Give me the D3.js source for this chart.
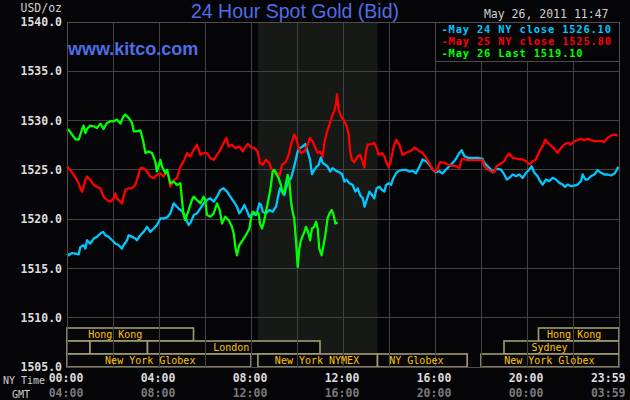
<!DOCTYPE html>
<html>
<head>
<meta charset="utf-8">
<title>24 Hour Spot Gold</title>
<script src="https://d3js.org/d3.v7.min.js"></script>
<style>
  body { margin: 0; background: #050507; }
  svg { display: block; }
  .mono { font-family: "DejaVu Sans Mono", monospace; }
  .axis text { font-family: "DejaVu Sans Mono", monospace; font-weight: bold; font-size: 11.5px; }
  .axis path { display: none; }
</style>
</head>
<body>
<svg width="630" height="400"></svg>
<script>
// [hour of NY day, bid price]
const may24 = [[0,1516.50],[0.07,1516.33],[0.22,1516.56],[0.36,1516.50],[0.51,1516.43],[0.58,1517.18],[0.72,1517.35],[0.80,1517.01],[0.87,1517.86],[1.01,1517.52],[1.16,1518.03],[1.30,1518.20],[1.45,1518.54],[1.57,1518.71],[1.67,1518.37],[1.81,1518.20],[1.96,1517.86],[2.10,1517.52],[2.25,1517.35],[2.39,1517.01],[2.46,1517.35],[2.61,1517.86],[2.68,1518.37],[2.83,1518.20],[2.97,1518.03],[3.04,1517.86],[3.19,1518.37],[3.33,1518.71],[3.48,1519.22],[3.62,1518.71],[3.77,1519.05],[3.91,1519.39],[4.06,1520.07],[4.20,1520.07],[4.35,1520.17],[4.49,1520.58],[4.64,1521.60],[4.78,1521.26],[4.93,1520.92],[5.04,1520.75],[5.14,1520.24],[5.29,1519.39],[5.39,1519.73],[5.51,1520.41],[5.65,1520.58],[5.80,1521.09],[5.94,1521.60],[6.09,1521.94],[6.23,1522.11],[6.38,1521.77],[6.52,1522.28],[6.67,1522.96],[6.81,1523.13],[6.96,1522.79],[7.10,1522.28],[7.25,1521.77],[7.39,1521.26],[7.49,1520.58],[7.64,1521.09],[7.71,1521.43],[7.81,1520.92],[7.93,1520.24],[8.07,1520.58],[8.22,1520.41],[8.29,1520.92],[8.36,1521.60],[8.44,1521.43],[8.51,1520.75],[8.65,1520.58],[8.80,1520.92],[8.94,1520.75],[9.09,1521.26],[9.16,1522.11],[9.26,1523.13],[9.35,1522.79],[9.45,1522.45],[9.52,1523.13],[9.59,1523.64],[9.67,1523.98],[9.74,1524.15],[9.84,1525.00],[9.93,1525.85],[10.03,1526.87],[10.13,1527.21],[10.25,1527.38],[10.36,1527.62],[10.46,1526.87],[10.57,1526.02],[10.65,1524.56],[10.75,1525.00],[10.86,1525.34],[10.94,1525.51],[11.04,1526.26],[11.12,1525.68],[11.23,1525.51],[11.33,1525.34],[11.44,1524.83],[11.55,1525.17],[11.70,1524.90],[11.84,1524.76],[11.96,1524.56],[12.06,1523.81],[12.16,1523.98],[12.28,1523.64],[12.42,1523.47],[12.54,1522.79],[12.64,1523.13],[12.74,1522.45],[12.86,1522.11],[12.94,1521.26],[13.03,1521.94],[13.15,1522.79],[13.26,1522.45],[13.36,1522.11],[13.46,1523.13],[13.58,1523.30],[13.70,1522.96],[13.80,1522.79],[13.87,1523.47],[13.99,1523.64],[14.09,1523.47],[14.19,1524.15],[14.31,1524.66],[14.42,1524.90],[14.59,1525.00],[14.74,1525.00],[14.88,1524.83],[15.03,1524.90],[15.17,1524.66],[15.32,1525.30],[15.46,1526.05],[15.61,1525.88],[15.75,1525.54],[15.90,1525.03],[16.04,1524.76],[16.19,1524.86],[16.33,1524.63],[16.48,1525.03],[16.62,1525.37],[16.77,1525.71],[16.91,1526.11],[17.06,1526.72],[17.16,1526.99],[17.28,1526.39],[17.42,1526.22],[17.64,1526.22],[17.86,1526.22],[18.07,1526.11],[18.14,1525.71],[18.29,1525.37],[18.43,1525.03],[18.51,1524.76],[18.62,1525.03],[18.72,1525.10],[18.87,1525.03],[19.01,1524.53],[19.12,1524.02],[19.23,1524.19],[19.38,1524.53],[19.52,1524.36],[19.67,1524.53],[19.81,1524.19],[19.96,1524.70],[20.10,1525.03],[20.20,1525.37],[20.32,1524.70],[20.46,1524.36],[20.57,1523.85],[20.68,1523.51],[20.83,1524.02],[20.97,1523.85],[21.12,1524.19],[21.26,1524.02],[21.41,1523.68],[21.55,1523.51],[21.65,1523.28],[21.77,1523.51],[21.91,1523.34],[22.06,1523.41],[22.20,1523.51],[22.35,1523.85],[22.42,1524.53],[22.54,1524.02],[22.64,1524.02],[22.78,1524.36],[22.93,1524.53],[23.07,1524.97],[23.22,1524.70],[23.36,1524.53],[23.51,1524.53],[23.65,1524.43],[23.81,1524.63],[23.87,1524.86],[23.97,1525.30]];

const may25 = [[0,1525.34],[0.14,1525.00],[0.29,1524.49],[0.43,1523.98],[0.51,1523.64],[0.58,1523.13],[0.65,1522.79],[0.72,1523.30],[0.80,1523.98],[0.87,1524.32],[1.01,1523.98],[1.16,1523.47],[1.30,1523.30],[1.45,1523.13],[1.59,1522.28],[1.74,1521.94],[1.88,1521.77],[2.03,1522.11],[2.10,1522.62],[2.17,1522.11],[2.32,1521.77],[2.39,1521.60],[2.46,1522.28],[2.54,1522.96],[2.68,1523.13],[2.83,1523.13],[2.97,1523.47],[3.04,1523.98],[3.19,1525.17],[3.33,1525.17],[3.48,1524.83],[3.62,1524.32],[3.77,1524.15],[3.91,1524.49],[4.06,1524.66],[4.20,1524.32],[4.35,1524.83],[4.42,1524.32],[4.49,1523.30],[4.64,1523.98],[4.78,1524.15],[4.93,1525.34],[5.07,1525.85],[5.22,1526.70],[5.36,1526.36],[5.51,1527.04],[5.65,1527.55],[5.80,1526.53],[5.94,1526.70],[6.09,1526.70],[6.23,1526.19],[6.38,1526.02],[6.52,1526.53],[6.67,1527.04],[6.81,1527.72],[6.93,1528.23],[7.03,1527.38],[7.17,1527.55],[7.32,1527.21],[7.49,1527.38],[7.64,1526.87],[7.78,1527.38],[7.86,1527.62],[8.00,1527.28],[8.15,1527.21],[8.29,1526.87],[8.39,1525.68],[8.51,1525.51],[8.65,1526.02],[8.80,1525.68],[8.87,1525.17],[8.94,1525.00],[9.06,1524.76],[9.16,1524.66],[9.23,1524.32],[9.35,1525.51],[9.45,1525.68],[9.52,1525.85],[9.64,1526.53],[9.74,1527.55],[9.81,1528.06],[9.88,1528.57],[9.96,1528.23],[10.07,1527.21],[10.17,1526.70],[10.32,1526.87],[10.46,1527.55],[10.57,1528.23],[10.68,1527.89],[10.80,1527.21],[10.90,1526.70],[11.00,1526.87],[11.12,1526.36],[11.19,1527.72],[11.29,1528.74],[11.41,1529.59],[11.52,1530.44],[11.62,1530.95],[11.70,1531.80],[11.74,1532.65],[11.81,1531.12],[11.91,1530.44],[12.06,1529.93],[12.16,1529.42],[12.25,1528.57],[12.31,1526.87],[12.39,1526.02],[12.49,1525.78],[12.64,1526.36],[12.74,1526.53],[12.83,1526.02],[12.93,1525.24],[13.00,1526.87],[13.07,1527.55],[13.22,1527.62],[13.36,1527.72],[13.46,1527.21],[13.55,1526.53],[13.70,1526.70],[13.80,1526.36],[13.87,1525.85],[13.99,1525.24],[14.09,1526.02],[14.19,1527.21],[14.31,1528.06],[14.45,1527.55],[14.59,1526.53],[14.74,1526.70],[14.88,1526.87],[15.03,1527.04],[15.10,1527.28],[15.25,1527.04],[15.32,1526.89],[15.46,1526.72],[15.61,1526.22],[15.75,1525.71],[15.90,1525.03],[16.04,1524.86],[16.12,1525.20],[16.22,1525.78],[16.41,1525.71],[16.55,1525.54],[16.70,1525.44],[16.91,1525.37],[17.06,1525.20],[17.13,1525.88],[17.20,1526.11],[17.42,1525.98],[17.64,1525.98],[17.86,1525.98],[18.07,1525.98],[18.14,1525.37],[18.29,1525.03],[18.43,1524.86],[18.58,1524.76],[18.68,1525.37],[18.80,1525.54],[18.91,1525.71],[19.01,1525.88],[19.12,1526.39],[19.23,1526.66],[19.38,1526.22],[19.59,1526.11],[19.81,1526.05],[19.96,1525.88],[20.10,1525.54],[20.25,1525.88],[20.39,1526.05],[20.54,1526.89],[20.68,1527.40],[20.80,1528.07],[20.90,1527.74],[21.04,1527.47],[21.19,1527.13],[21.33,1526.72],[21.48,1527.23],[21.62,1527.57],[21.77,1527.74],[21.91,1527.57],[22.06,1527.91],[22.20,1528.01],[22.35,1528.14],[22.49,1528.01],[22.64,1528.14],[22.78,1528.01],[22.93,1527.91],[23.07,1527.91],[23.22,1527.91],[23.36,1527.84],[23.51,1528.24],[23.65,1528.48],[23.80,1528.58],[23.94,1528.48]];

const may26 = [[0,1528.91],[0.07,1529.08],[0.22,1528.57],[0.36,1528.13],[0.51,1528.06],[0.58,1528.57],[0.65,1529.08],[0.72,1529.49],[0.80,1528.74],[0.87,1529.15],[1.01,1529.49],[1.16,1529.42],[1.30,1529.25],[1.45,1529.69],[1.59,1529.15],[1.74,1529.76],[1.88,1529.93],[2.03,1529.93],[2.17,1530.10],[2.32,1529.69],[2.46,1530.44],[2.54,1530.61],[2.68,1530.27],[2.83,1529.76],[2.90,1528.91],[3.04,1528.91],[3.19,1529.01],[3.26,1528.40],[3.33,1527.72],[3.41,1526.70],[3.55,1526.87],[3.70,1526.70],[3.84,1525.85],[3.91,1524.83],[4.06,1526.02],[4.13,1525.34],[4.28,1524.66],[4.35,1525.00],[4.49,1523.64],[4.64,1523.81],[4.78,1523.47],[4.93,1523.64],[5.00,1521.94],[5.07,1520.41],[5.14,1519.90],[5.29,1520.92],[5.43,1521.94],[5.51,1522.28],[5.65,1521.94],[5.80,1521.60],[5.94,1522.28],[6.01,1521.94],[6.09,1520.41],[6.23,1520.24],[6.38,1520.58],[6.52,1521.60],[6.64,1520.92],[6.74,1519.56],[6.88,1520.24],[7.03,1519.90],[7.17,1519.22],[7.25,1518.54],[7.32,1517.18],[7.39,1516.33],[7.49,1517.35],[7.64,1517.86],[7.78,1518.37],[7.93,1519.05],[8.00,1520.07],[8.07,1520.75],[8.22,1520.58],[8.33,1520.58],[8.39,1519.56],[8.48,1519.05],[8.58,1519.90],[8.65,1520.75],[8.77,1522.11],[8.87,1523.47],[8.94,1524.83],[9.01,1525.00],[9.12,1524.49],[9.20,1524.15],[9.30,1523.47],[9.38,1522.62],[9.45,1522.79],[9.52,1523.64],[9.59,1524.49],[9.67,1523.81],[9.74,1521.77],[9.81,1520.75],[9.88,1520.07],[9.96,1517.69],[10.03,1515.14],[10.10,1517.01],[10.17,1517.86],[10.32,1518.71],[10.39,1519.22],[10.46,1518.88],[10.57,1517.86],[10.65,1519.05],[10.75,1519.22],[10.83,1519.73],[10.90,1519.05],[10.97,1517.01],[11.07,1516.33],[11.15,1517.35],[11.23,1518.37],[11.33,1520.07],[11.41,1520.58],[11.51,1520.92],[11.59,1520.41],[11.67,1519.56],[11.77,1519.66]];

const priceTicks = [1505, 1510, 1515, 1520, 1525, 1530, 1535, 1540];
const hourTicks = [0, 4, 8, 12, 16, 20, 24];
const nyLabels = ["00:00", "04:00", "08:00", "12:00", "16:00", "20:00", "23:59"];
const gmtLabels = ["04:00", "08:00", "12:00", "16:00", "20:00", "00:00", "03:59"];
const legendLabels = ["-May 24 NY close 1526.10", "-May 25 NY close 1525.80", "-May 26 Last 1519.10"];
const pitHours = [8.3, 13.5];

// trading sessions: row, start hour, end hour, where the name sits
const sessionNames = ["Hong Kong", "Hong Kong", "", "", "London", "Sydney", "New York Globex", "New York NYMEX", "NY Globex", "New York Globex"];
const sessionRows = [0, 0, 1, 1, 1, 1, 2, 2, 2, 2];
const sessionStart = [0, 20.5, 0, 1.0, 3.5, 19.0, 0, 8.3, 13.5, 18.0];
const sessionEnd = [5.5, 24, 1.0, 3.5, 11.0, 24, 8.0, 13.5, 17.4, 24];
const sessionLabelAt = [2.1, 22.05, 0, 0, 7.14, 20.98, 3.62, 10.87, 15.19, 20.97];

const colors = ["#00c8ff", "#ff0000", "#00ff00"];
const series = [may24, may25, may26];

const margin = { top: 22, right: 11, bottom: 33, left: 67 };
const W = 630, H = 400;

const x = d3.scaleLinear().domain([0, 24]).range([margin.left, W - margin.right]);
const y = d3.scaleLinear().domain([1505, 1540]).range([H - margin.bottom, margin.top]);

const svg = d3.select("svg");

svg.append("rect").attr("width", W).attr("height", H).attr("fill", "#050507");

// pit session shade
svg.append("rect")
    .attr("x", x(pitHours[0])).attr("y", y(1540))
    .attr("width", x(pitHours[1]) - x(pitHours[0]))
    .attr("height", y(1505) - y(1540))
    .attr("fill", "#161916");

// session boxes
const rowH = 13;
const rowTop = y(1505) - 3 * rowH;
const sess = svg.append("g");
sessionNames.forEach((name, i) => {
    sess.append("rect")
        .attr("x", x(sessionStart[i]))
        .attr("y", rowTop + sessionRows[i] * rowH)
        .attr("width", x(sessionEnd[i]) - x(sessionStart[i]))
        .attr("height", rowH)
        .attr("fill", "#07070a")
        .attr("stroke", "#a29d72")
        .attr("stroke-width", 1.6);
});

// grid
const grid = svg.append("g").attr("stroke", "#424242").attr("stroke-width", 1).attr("shape-rendering", "crispEdges");
d3.range(0, 25, 2).forEach(h => {
    grid.append("line").attr("x1", x(h)).attr("x2", x(h)).attr("y1", y(1540)).attr("y2", y(1505));
});
priceTicks.forEach(p => {
    grid.append("line").attr("x1", x(0)).attr("x2", x(24)).attr("y1", y(p)).attr("y2", y(p));
});

// session names
sessionNames.forEach((name, i) => {
    if (!name) return;
    svg.append("text")
        .attr("class", "mono")
        .attr("x", x(sessionLabelAt[i]))
        .attr("y", rowTop + sessionRows[i] * rowH + 9.8)
        .attr("text-anchor", "middle")
        .attr("font-size", "10px")
        .attr("fill", "#ffc400")
        .text(name);
});

// price lines
const line = d3.line().x(d => x(d[0])).y(d => y(d[1]));
series.forEach((s, i) => {
    svg.append("path")
        .datum(s)
        .attr("d", line)
        .attr("fill", "none")
        .attr("stroke", colors[i])
        .attr("stroke-width", 2.3)
        .attr("stroke-linejoin", "round");
});

// legend box
svg.append("rect")
    .attr("x", 435.5).attr("y", y(1540))
    .attr("width", x(24) - 435.5).attr("height", 39.5)
    .attr("fill", "#050507").attr("stroke", "#4a4a4a")
    .attr("shape-rendering", "crispEdges");
legendLabels.forEach((t, i) => {
    svg.append("text")
        .attr("class", "mono")
        .attr("x", 441.5)
        .attr("y", 32.8 + i * 12.2)
        .attr("font-size", "10.4px")
        .attr("letter-spacing", "0.84px")
        .attr("font-weight", "bold")
        .attr("fill", colors[i])
        .text(t);
});

// axes
const yAxis = svg.append("g")
    .attr("class", "axis")
    .attr("transform", "translate(" + margin.left + ",0)")
    .call(d3.axisLeft(y).tickValues(priceTicks).tickFormat(d3.format(".1f")).tickSize(0).tickPadding(5));
yAxis.selectAll("text").attr("fill", "#dcdcdc");

const nyAxis = svg.append("g")
    .attr("class", "axis")
    .attr("transform", "translate(0," + y(1505) + ")")
    .call(d3.axisBottom(x).tickValues(hourTicks).tickFormat((d, i) => nyLabels[i]).tickSize(0).tickPadding(6.5));
nyAxis.selectAll("text").attr("fill", "#dcdcdc").attr("dx", -1.5);

const gmtAxis = svg.append("g")
    .attr("class", "axis")
    .attr("transform", "translate(0," + y(1505) + ")")
    .call(d3.axisBottom(x).tickValues(hourTicks).tickFormat((d, i) => gmtLabels[i]).tickSize(0).tickPadding(22));
gmtAxis.selectAll("text").attr("fill", "#7a7a7a").attr("dx", -1.5);

[nyAxis, gmtAxis].forEach(a => {
    a.selectAll(".tick").filter(d => d === 24).select("text")
        .attr("text-anchor", "end").attr("dx", 6);
});

// plot frame
svg.append("rect")
    .attr("x", x(0)).attr("y", y(1540))
    .attr("width", x(24) - x(0)).attr("height", y(1505) - y(1540))
    .attr("fill", "none").attr("stroke", "#4e4e4e")
    .attr("shape-rendering", "crispEdges");

// labels
svg.append("text")
    .attr("x", 295).attr("y", 17.5)
    .attr("text-anchor", "middle")
    .attr("font-family", "Liberation Sans, Arial, sans-serif")
    .attr("font-size", "19.5px")
    .attr("fill", "#4f6ee6")
    .text("24 Hour Spot Gold (Bid)");

svg.append("text")
    .attr("x", 68).attr("y", 55)
    .attr("font-family", "Liberation Sans, Arial, sans-serif")
    .attr("font-weight", "bold")
    .attr("font-size", "18px")
    .attr("fill", "#4f6ee6")
    .text("www.kitco.com");

svg.append("text")
    .attr("class", "mono")
    .attr("x", 20.5).attr("y", 12.3)
    .attr("font-size", "11.5px")
    .attr("fill", "#cfcfcf")
    .text("USD/oz");

svg.append("text")
    .attr("class", "mono")
    .attr("x", 608.5).attr("y", 18.3)
    .attr("text-anchor", "end")
    .attr("font-size", "11.5px")
    .attr("fill", "#cfcfcf")
    .text("May 26, 2011 11:47");

svg.append("text")
    .attr("class", "mono")
    .attr("x", 3).attr("y", 383.5)
    .attr("font-size", "10px")
    .attr("fill", "#cfcfcf")
    .text("NY Time");

svg.append("text")
    .attr("class", "mono")
    .attr("x", 12).attr("y", 397.5)
    .attr("font-size", "10px")
    .attr("fill", "#cfcfcf")
    .text("GMT");
</script>
</body>
</html>
